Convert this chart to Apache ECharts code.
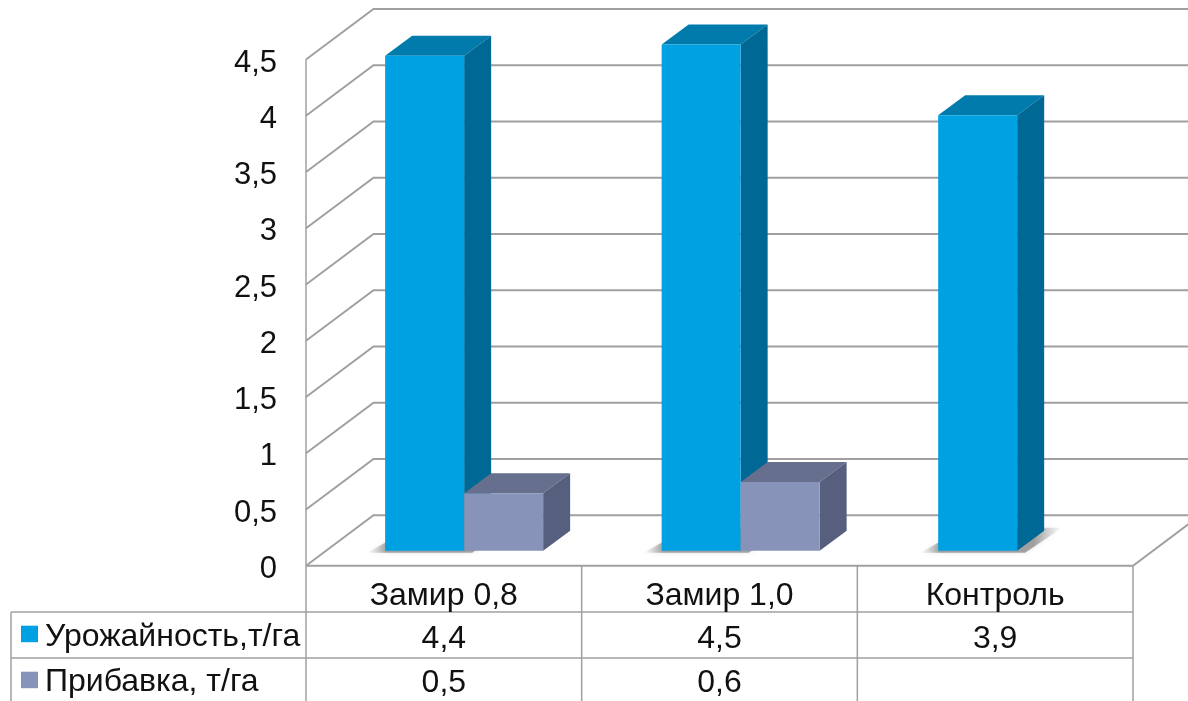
<!DOCTYPE html>
<html><head><meta charset="utf-8">
<style>html,body{margin:0;padding:0;background:#fff}#c{width:1188px;height:701px}</style>
<script src="https://cdn.jsdelivr.net/npm/echarts@6/dist/echarts.min.js"></script>
</head><body><div id="c"></div>
<script>
var categories = ['Замир 0,8', 'Замир 1,0', 'Контроль'];
var yieldName = 'Урожайность,т/га';
var yieldValues = [4.4, 4.5, 3.87];
var addName = 'Прибавка, т/га';
var addValues = [0.51, 0.61, null];
var yTicks = [0, 0.5, 1, 1.5, 2, 2.5, 3, 3.5, 4, 4.5];

var FONT = '"Liberation Sans", Arial, sans-serif';
var FS = 32;
var GRAY = '#a0a0a0';
var WALL = {dx: 67.5, dy: -50.5};
var BAR = {dx: 20.3, step: 0.85, dy: -15, ddx: 27, ddy: -20, w: 79};
var blue = {front: '#00a1e2', top: '#007bab', side: '#006894'};
var slate = {front: '#8793b8', top: '#666f8d', side: '#565f7d'};
function comma(v) { return String(v).replace('.', ','); }

function box(api, side, pal, withShadow) {
  var idx = api.value(0), val = api.value(1);
  if (val == null || isNaN(val)) return {type: 'group', children: []};
  var t = api.coord([idx, val]), b = api.coord([idx, 0]);
  var cx = t[0] + BAR.dx + idx * BAR.step;
  var x0 = side < 0 ? cx - BAR.w : cx, x1 = x0 + BAR.w;
  var yt = t[1] + BAR.dy, yb = b[1] + BAR.dy;
  var dx = BAR.ddx, dy = BAR.ddy;
  var kids = [];
  if (withShadow) {
    kids.push({type: 'polygon', shape: {points: [[x0 - 18, yb + 2], [x1 + 8, yb + 2], [x1 + dx + 18, yb + dy - 3], [x0 + dx, yb + dy - 3]]},
      style: {fill: {type: 'linear', x: 0, y: 0, x2: 1, y2: 0, colorStops: [
        {offset: 0, color: 'rgba(140,140,140,0)'}, {offset: 0.14, color: 'rgba(110,110,110,0.6)'},
        {offset: 0.8, color: 'rgba(110,110,110,0.6)'}, {offset: 1, color: 'rgba(140,140,140,0)'}]},
        shadowBlur: 5, shadowColor: 'rgba(120,120,120,0.3)'}});
  }
  kids.push({type: 'polygon', shape: {points: [[x0, yt], [x1, yt], [x1 + dx, yt + dy], [x0 + dx, yt + dy]]}, style: {fill: pal.top}});
  kids.push({type: 'polygon', shape: {points: [[x1, yt], [x1 + dx, yt + dy], [x1 + dx, yb + dy], [x1, yb]]}, style: {fill: pal.side}});
  kids.push({type: 'rect', shape: {x: x0, y: yt, width: BAR.w, height: yb - yt}, style: {fill: pal.front}});
  return {type: 'group', children: kids};
}

function wall(params, api) {
  var v = api.value(0);
  var f = api.coord([0, v]);
  var x0 = api.coord([0, 0])[0] - api.size([1, 0])[0] / 2;
  var x1 = x0 + api.size([1, 0])[0] * categories.length;
  var pts = [[x0, f[1]], [x0 + WALL.dx, f[1] + WALL.dy], [x1 + WALL.dx, f[1] + WALL.dy]];
  var kids = [{type: 'polyline', shape: {points: pts}, style: {stroke: GRAY, lineWidth: 2, fill: 'none'}}];
  if (v === 0) {
    kids.push({type: 'polyline', shape: {points: [[x0, f[1]], [x1, f[1]], [x1 + WALL.dx, f[1] + WALL.dy]]}, style: {stroke: GRAY, lineWidth: 2, fill: 'none'}});
  }
  return {type: 'group', children: kids};
}

var L = 306, R = 1133, T0 = 565.7, ROW1 = 612, ROW2 = 658, ROW3 = 701, LEFT = 11;
var graphics = [];
function ln(x1, y1, x2, y2) {
  graphics.push({type: 'line', shape: {x1: x1, y1: y1, x2: x2, y2: y2}, style: {stroke: GRAY, lineWidth: 1.5}, silent: true});
}
ln(LEFT, ROW1, R, ROW1); ln(LEFT, ROW2, R, ROW2); ln(LEFT, ROW1, LEFT, ROW3);
for (var i = 0; i <= categories.length; i++) { var gx = L + (R - L) * i / categories.length; ln(gx, T0, gx, ROW3); }
ln(L, 59.5, L, T0);
function legendRow(y, name, color, textY) {
  graphics.push({type: 'rect', shape: {x: 21, y: y, width: 17, height: 16.5}, style: {fill: color}});
  graphics.push({type: 'text', style: {x: 45, y: textY, text: name, font: FS + 'px ' + FONT, fill: '#111', textVerticalAlign: 'middle'}});
}
legendRow(625.7, yieldName, blue.front, 637);
legendRow(671.7, addName, slate.front, 682);

function tableCell(rowY) {
  return function (params, api) {
    var v = api.value(1);
    if (v == null || isNaN(v)) return {type: 'group', children: []};
    var p = api.coord([api.value(0), 0]);
    return {type: 'text', style: {x: p[0], y: rowY, text: comma(v.toFixed(1)), font: FS + 'px ' + FONT, fill: '#111', textAlign: 'center', textVerticalAlign: 'middle'}};
  };
}
function pairs(a) { return a.map(function (v, i) { return [i, v]; }); }

var chart = echarts.init(document.getElementById('c'), null, {renderer: 'canvas'});
chart.setOption({
  animation: false,
  backgroundColor: '#fff',
  grid: {left: L, right: 1188 - R, top: 59.5, bottom: 701 - T0, containLabel: false},
  xAxis: {type: 'category', data: categories, boundaryGap: true,
    axisLine: {show: false}, axisTick: {show: false}, splitLine: {show: false},
    axisLabel: {fontFamily: FONT, fontSize: FS, color: '#111', margin: 14, interval: 0}},
  yAxis: {type: 'value', min: 0, max: 4.5, interval: 0.5,
    axisLine: {show: false}, axisTick: {show: false}, splitLine: {show: false},
    axisLabel: {margin: 29, formatter: function (v) { return '{a|' + comma(v) + '}'; },
      rich: {a: {fontFamily: FONT, fontSize: 31, color: '#111', padding: [7, 0, 0, 0]}}}},
  graphic: graphics,
  series: [
    {type: 'custom', name: 'wall', silent: true, clip: false, z: 1, data: yTicks.map(function (v) { return [v]; }), encode: {y: 0}, renderItem: wall},
    {type: 'custom', name: yieldName, clip: false, z: 2, data: pairs(yieldValues), renderItem: function (p, api) { return box(api, -1, blue, true); }},
    {type: 'custom', name: addName, clip: false, z: 3, data: pairs(addValues), renderItem: function (p, api) { return box(api, 1, slate, false); }},
    {type: 'custom', name: yieldName + ' row', clip: false, silent: true, z: 4, data: pairs(yieldValues), renderItem: tableCell(639)},
    {type: 'custom', name: addName + ' row', clip: false, silent: true, z: 4, data: pairs(addValues), renderItem: tableCell(683)}
  ]
});
</script></body></html>
